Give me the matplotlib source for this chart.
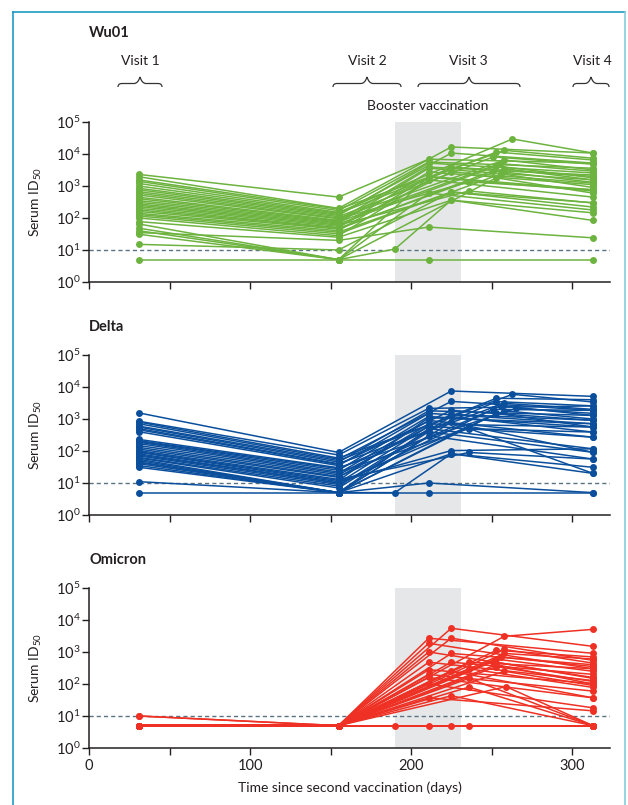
import numpy as np
import matplotlib.pyplot as plt
from matplotlib.path import Path
from matplotlib.patches import PathPatch
from matplotlib.lines import Line2D
from matplotlib.ticker import FixedLocator, FuncFormatter, NullLocator

plt.rcParams['font.family'] = ['Lato', 'DejaVu Sans']
plt.rcParams['mathtext.default'] = 'regular'

W, H = 628, 805
TXT = '#231f20'

# sampling days (time since second vaccination)
day_v1 = 31
day_v2 = 155
day_v4 = 313
booster = (190, 231)
lod = 10

# ---- Wu01 ----
wu_v1 = [2300, 1950, 1550, 1400, 1200, 1000, 850, 760, 665, 590, 520, 445, 400, 350, 310, 275, 250,
         225, 200, 178, 160, 140, 128, 115, 100, 77, 65, 48, 40, 35, 31, 15, 5]
wu_v2 = [450, 200, 190, 170, 150, 140, 130, 120, 110, 100, 95, 85, 80, 75, 70, 65, 60,
         55, 50, 48, 45, 40, 36, 32, 28, 25, 5, 5, 5, 20, 5, 10, 5]
wu_d3 = [211, 225, 258, 211, 263, 253, 225, 211, 251, 258, 236, 211, 225, 255, 211, 253, 236,
         225, 211, 258, 251, 211, 225, 256, 211, 225, 253, 211, 225, 211, 211, 225, 211]
wu_v3 = [6900, 16600, 13000, 5600, 29500, 11500, 10700, 5200, 8100, 6500, 1350, 3900, 3900, 5000, 3600, 4200, 700,
         2750, 2750, 3500, 3000, 1900, 650, 2400, 1550, 360, 1800, 600, 360, 52, 2000, 650, 5]
wu_v4 = [5200, 10700, 7400, 3600, 10700, 6500, 5200, 2550, 4800, 3200, 760, 2200, 2000, 2900, 1550, 1800, 295,
         1230, 1100, 1550, 1300, 700, 220, 900, 450, 145, 600, 178, 84, 24, 760, 300, 5]
wu_pre_who = [28]
wu_pre_day = [190]
wu_pre_val = [10.7]

# ---- Delta ----
de_v1 = [1550, 850, 800, 710, 600, 560, 500, 460, 400, 230, 210, 200, 187, 170, 148, 130, 115,
         103, 95, 90, 81, 75, 70, 63, 60, 55, 50, 45, 44, 40, 35, 31, 11, 5]
de_v2 = [90, 75, 60, 55, 50, 45, 40, 38, 35, 30, 28, 25, 22, 20, 18, 16, 15,
         13, 12, 11, 10, 10, 9, 8, 7, 5, 5, 5, 5, 5, 5, 5, 5, 5]
de_d3 = [225, 211, 263, 225, 253, 211, 258, 225, 211, 265, 253, 211, 236, 211, 225, 256, 211,
         236, 211, 225, 258, 211, 251, 225, 211, 225, 211, 253, 211, 225, 211, 236, 225, 211]
de_v3 = [7500, 2150, 5900, 3550, 4450, 1800, 3100, 1860, 1500, 2150, 3500, 1200, 500, 900, 1400, 2600, 700,
         90, 1100, 103, 1800, 600, 2000, 1200, 400, 82, 500, 1500, 10, 800, 300, 600, 82, 5]
de_v4 = [5100, 2570, 3400, 1860, 4000, 1290, 2000, 910, 710, 1500, 2570, 560, 390, 270, 910, 1290, 560,
         56, 710, 117, 1000, 270, 1860, 390, 91, 31, 117, 560, 5, 20, 56, 91, 20, 5]
de_pre_who = [32]
de_pre_day = [190]
de_pre_val = [5]

# ---- Omicron ----
om_v1 = [10, 5, 5, 5, 5, 5, 5, 10, 5, 5, 5, 5, 5, 5, 5, 5, 5,
         5, 5, 5, 5, 5, 5, 5, 5, 5, 5, 5, 5, 5, 5, 5, 5, 5]
om_v2 = [5] * 34
om_d3 = [225, 211, 225, 211, 258, 211, 225, 253, 211, 236, 225, 211, 258, 236, 211, 236, 211,
         225, 211, 259, 236, 253, 256, 251, 258, 253, 211, 225, 190, 236, 211, 225, 253, 258]
om_v3 = [5500, 2700, 2700, 1870, 3100, 1000, 900, 1130, 480, 480, 480, 280, 1200, 300, 160, 150, 100,
         43, 37, 83, 80, 600, 700, 500, 900, 400, 5, 5, 5, 5, 200, 250, 350, 250]
om_v4 = [1500, 910, 550, 300, 5100, 160, 400, 700, 128, 300, 200, 103, 450, 78, 37, 5, 18,
         5, 14.5, 5, 5, 250, 350, 150, 600, 100, 5, 5, 5, 5, 60, 37, 120, 90]
om_pre_who = []
om_pre_day = []
om_pre_val = []


def fx(x):
    return x / W


def fy(y):
    return 1 - y / H


fig = plt.figure(figsize=(W / 100, H / 100), dpi=100)


def panel(top_px, title_px, title, v1, v2, d3, v3, v4, pre_who, pre_day, pre_val, color, last=False):
    ax = fig.add_axes([fx(89), fy(top_px + 160), 521 / W, 160 / H])
    ax.axvspan(*booster, color='#e6e7e8', lw=0, zorder=0)
    ax.axhline(lod, color='#5b7282', lw=1, ls=(0, (3, 2.2)), zorder=1)
    for i in range(len(v1)):
        xs = [day_v1, day_v2]
        ys = [v1[i], v2[i]]
        if i in pre_who:
            k = pre_who.index(i)
            xs.append(pre_day[k])
            ys.append(pre_val[k])
        xs += [d3[i], day_v4]
        ys += [v3[i], v4[i]]
        ax.plot(xs, ys, '-o', color=color, lw=1.1, ms=5, mew=0, zorder=3, clip_on=False)
    ax.set_yscale('log')
    ax.set_ylim(1, 1e5)
    ax.set_xlim(0, 323.6)
    ax.yaxis.set_major_locator(FixedLocator([10.0 ** e for e in range(6)]))
    ax.yaxis.set_minor_locator(NullLocator())
    ax.yaxis.set_major_formatter(FuncFormatter(lambda v, _: '10$^{%d}$' % round(np.log10(v))))
    ax.xaxis.set_major_locator(FixedLocator(range(0, 301, 50)))
    if last:
        ax.xaxis.set_major_formatter(FuncFormatter(lambda v, _: '%d' % v if v % 100 == 0 else ''))
        ax.set_xlabel('Time since second vaccination (days)', fontsize=10, color=TXT, labelpad=6)
    else:
        ax.set_xticklabels([])
    for s in ['top', 'right']:
        ax.spines[s].set_visible(False)
    for s in ['left', 'bottom']:
        ax.spines[s].set_linewidth(1.1)
        ax.spines[s].set_color(TXT)
    ax.tick_params(axis='x', length=5, width=1, color=TXT, labelsize=10.5, labelcolor=TXT, pad=3)
    ax.tick_params(axis='y', length=5, width=1, color=TXT, labelsize=10.5, labelcolor=TXT, pad=1)
    ax.set_ylabel('Serum ID$_{50}$', fontsize=10, color=TXT)
    ax.yaxis.set_label_coords(-0.086, 0.5)
    fig.text(fx(89), fy(title_px), title, fontsize=10.5, fontweight='bold', color=TXT,
             ha='left', va='center')
    return ax


panel(122, 33, 'Wu01', wu_v1, wu_v2, wu_d3, wu_v3, wu_v4, wu_pre_who, wu_pre_day, wu_pre_val, '#6db33f')
panel(355, 327, 'Delta', de_v1, de_v2, de_d3, de_v3, de_v4, de_pre_who, de_pre_day, de_pre_val, '#0b4f9c')
panel(588, 560, 'Omicron', om_v1, om_v2, om_d3, om_v3, om_v4, om_pre_who, om_pre_day, om_pre_val, '#ee3124',
      last=True)


def brace(x0, x1, y_tip=87, y_bar=83.5, y_peak=77):
    xm = (x0 + x1) / 2
    pts = [(x0, y_tip), (x0, y_bar), (x0 + 4, y_bar), (xm - 6, y_bar), (xm - 2, y_bar), (xm, y_peak),
           (xm + 2, y_bar), (xm + 6, y_bar), (x1 - 4, y_bar), (x1, y_bar), (x1, y_tip)]
    codes = [Path.MOVETO, Path.CURVE3, Path.CURVE3, Path.LINETO, Path.CURVE3, Path.CURVE3,
             Path.CURVE3, Path.CURVE3, Path.LINETO, Path.CURVE3, Path.CURVE3]
    verts = [(fx(a), fy(b)) for a, b in pts]
    fig.patches.append(PathPatch(Path(verts, codes), fill=False, lw=0.9, ec='#333333',
                                 transform=fig.transFigure))


visit_labels = ['Visit 1', 'Visit 2', 'Visit 3', 'Visit 4']
visit_cx = [140, 367, 468, 592]
visit_span = [(118, 162), (333, 401), (418, 520), (573, 609)]
for lab, cx, (a, b) in zip(visit_labels, visit_cx, visit_span):
    fig.text(fx(cx), fy(61), lab, fontsize=10, color=TXT, ha='center', va='center')
    brace(a, b)
fig.text(fx(428), fy(106), 'Booster vaccination', fontsize=10, color=TXT, ha='center', va='center')

# frame around the figure
fig.lines.append(Line2D([fx(12.5), fx(12.5)], [0, fy(12.5)], color='#1f9bc4', lw=1.2,
                        transform=fig.transFigure))
fig.lines.append(Line2D([fx(12.5), fx(625)], [fy(12.5), fy(12.5)], color='#1f9bc4', lw=1.2,
                        transform=fig.transFigure))
fig.lines.append(Line2D([fx(625), fx(625)], [0, fy(12.5)], color='#86cde2', lw=1.2,
                        transform=fig.transFigure))

fig.savefig('out.png', dpi=100)
